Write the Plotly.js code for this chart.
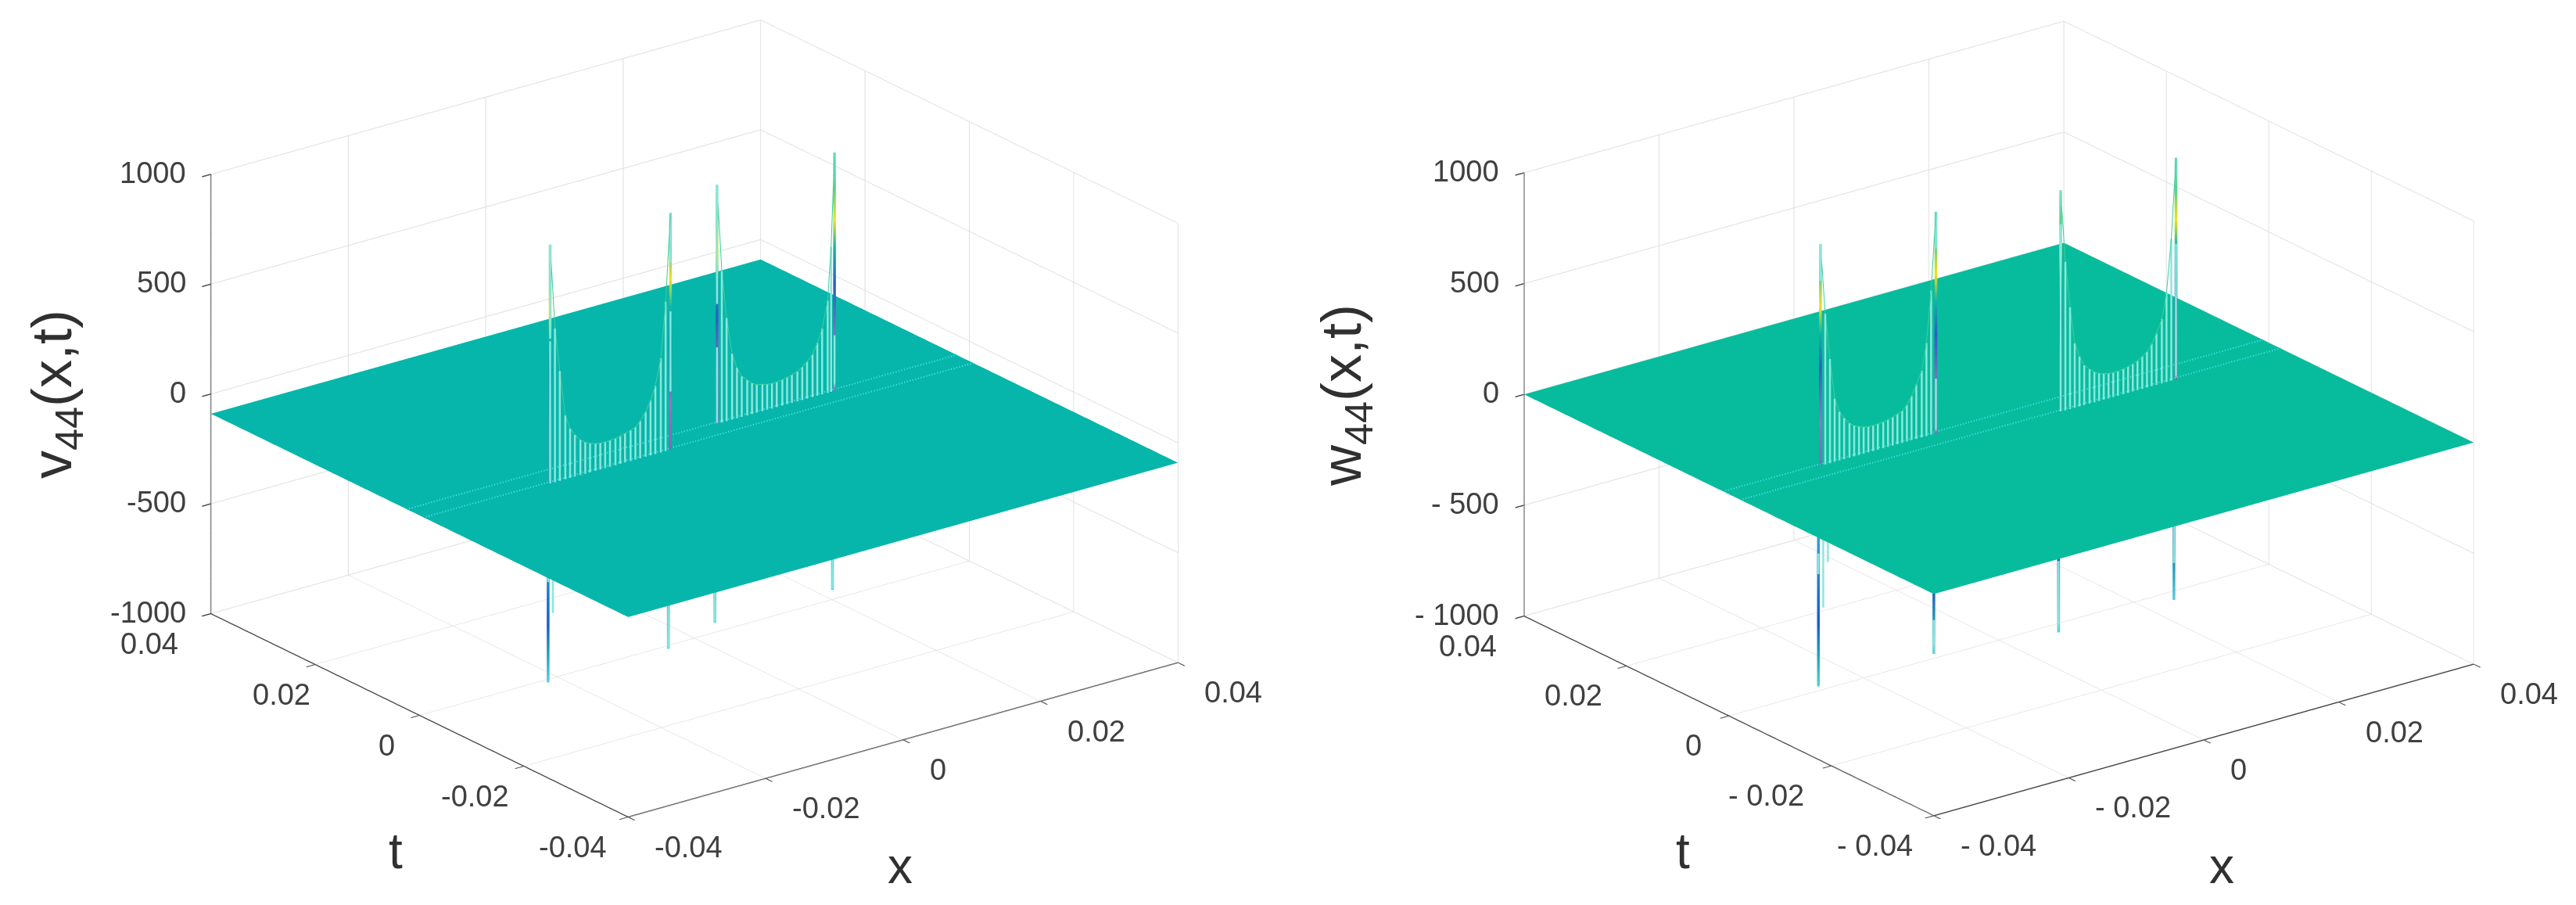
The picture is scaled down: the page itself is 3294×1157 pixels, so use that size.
<!DOCTYPE html>
<html><head><meta charset="utf-8">
<script src="https://cdn.plot.ly/plotly-3.0.1.min.js"></script>
<style>html,body{margin:0;padding:0;background:#fff}#c{width:3294px;height:1157px}</style>
</head><body><div id="c"></div>
<script>
const xTicks=[-0.04,-0.02,0,0.02,0.04];
const tTicks=[-0.04,-0.02,0,0.02,0.04];
const zTicks=[-1000,-500,0,500,1000];
const xLabelsV=['-0.04','-0.02','0','0.02','0.04'];
const zLabelsV=['-1000','-500','0','500','1000'];
const xLabelsW=['- 0.04','- 0.02','0','0.02','0.04'];
const zLabelsW=['- 1000','- 500','0','500','1000'];
const gridX=[-0.04,0.04];
const gridT=[-0.04,0.04];
const planeV=-90, planeW=0;
const tV=[-0.0012,0.002];
const tW=[0.0007,-0.0027];
const xV1=[-0.0219,-0.0212,-0.0205,-0.0197,-0.019,-0.0183,-0.0175,-0.0168,-0.0161,-0.0153,-0.0146,-0.0139,-0.0132,-0.0124,-0.0117,-0.011,-0.0102,-0.0095,-0.0088,-0.008,-0.0073,-0.0066,-0.0058,-0.0051,-0.0044];
const xV2=[0.0048,0.0055,0.0062,0.007,0.0077,0.0084,0.0092,0.0099,0.0106,0.0114,0.0121,0.0128,0.0135,0.0143,0.015,0.0157,0.0165,0.0172,0.0179,0.0187,0.0194,0.0201,0.0209,0.0214,0.0219];
const xW1=[-0.0259,-0.0252,-0.0245,-0.0238,-0.0231,-0.0224,-0.0216,-0.0209,-0.0202,-0.0195,-0.0188,-0.0181,-0.0174,-0.0166,-0.0159,-0.0152,-0.0145,-0.0138,-0.0131,-0.0124,-0.0117,-0.0109,-0.0102,-0.0095,-0.0088];
const xW2=[0.0071,0.0078,0.0085,0.0092,0.0099,0.0106,0.0114,0.0121,0.0128,0.0135,0.0142,0.0149,0.0156,0.0164,0.0171,0.0178,0.0185,0.0192,0.0199,0.0206,0.0213,0.0221,0.0228,0.0235,0.0242];
const combV1=[1088,700,500,290,225,190,160,143,132,124,120,119,120,122,126,133,140,148,170,205,250,310,430,680,1078];
const combV2=[1090,690,470,300,230,185,160,140,128,122,116,114,114,118,122,128,136,150,168,195,240,300,420,660,1085];
const negV1=[910,600,420,260,200,170,150,135,125,118,114,113,114,116,120,126,133,140,160,190,235,290,400,600,910];
const negV2=[910,590,410,265,205,170,150,132,122,116,110,108,108,112,116,122,130,142,158,185,225,280,390,590,910];
const combW1=[1000,680,470,285,220,185,155,138,128,120,116,115,116,118,122,128,136,144,165,200,245,300,420,650,1000];
const combW2=[1000,670,460,290,225,180,155,136,124,118,112,110,110,114,118,124,132,146,162,190,232,290,405,640,1000];
const negW1=[1000,650,450,280,215,180,150,135,125,118,114,113,114,116,120,126,133,140,160,190,235,290,400,620,1000];
const negW2=[1000,640,440,285,220,175,150,132,122,116,110,108,108,112,116,122,130,142,158,185,225,280,390,610,1000];
const upColors=['#7b68b8','#8a78c0','#2a5fc0','#12b5a8','#f5e020','#5ccf8f','#7fe0d0'];
const upStops=[0,0.2,0.45,0.6,0.72,0.85,1];
const downColors=['#12b5a8','#2fb8d0','#2a8fd0','#1a70c8','#1c60c0','#20a0c0','#58d0e0'];
const tStep=0.0004;

function teeth(xs,vals,t,base,sign){const X=[],Y=[],Z=[];xs.forEach((x,i)=>{X.push(x,x,null);Y.push(t,t,null);Z.push(base,Math.max(-1000,base+sign*vals[i]),null);});return {X,Y,Z};}
function curve(xs,vals,t,base,sc){return {type:'scatter3d',mode:'lines',scene:sc,x:xs,y:xs.map(()=>t),z:vals.map(v=>base+v),line:{color:'#3ccf9c',width:2},hoverinfo:'skip',showlegend:false};}
function endSpike(x,t,base,h,sc,colors){const Z=upStops.map(s=>Math.max(-1000,base+s*h));return {type:'scatter3d',mode:'lines',scene:sc,x:Z.map(()=>x),y:Z.map(()=>t),z:Z,line:{color:colors,width:7},hoverinfo:'skip',showlegend:false};}
function panel(sc,base,col,ts,x1,x2,c1,c2,n1,n2){
  const tr=[];
  const last=x1.length-1;
  tr.push({type:'surface',scene:sc,x:gridX,y:gridT,z:[[base,base],[base,base]],showscale:false,colorscale:[[0,col],[1,col]],lighting:{ambient:1,diffuse:0,specular:0,roughness:1,fresnel:0},hoverinfo:'skip'});
  ts.forEach(t=>tr.push({type:'scatter3d',mode:'lines',scene:sc,x:gridX,y:[t,t],z:[base+8,base+8],line:{color:'#45e0ea',width:4,dash:'dot'},hoverinfo:'skip',showlegend:false}));
  const parts=[teeth(x1,c1,ts[0],base,1),teeth(x2,c2,ts[1],base,1),teeth(x1,n1,ts[0]+tStep,base,-1),teeth(x2,n2,ts[1]+tStep,base,-1)];
  parts.forEach(p=>tr.push({type:'scatter3d',mode:'lines',scene:sc,x:p.X,y:p.Y,z:p.Z,line:{color:'#8ce6dc',width:5},hoverinfo:'skip',showlegend:false}));
  tr.push(curve(x1,c1,ts[0],base,sc),curve(x2,c2,ts[1],base,sc));
  tr.push(endSpike(x1[0],ts[0],base,c1[0],sc,upColors),endSpike(x1[last],ts[0],base,c1[last],sc,upColors),endSpike(x2[0],ts[1],base,c2[0],sc,upColors),endSpike(x2[last],ts[1],base,c2[last],sc,upColors));
  [[x1[0],ts[0],n1[0]],[x1[last],ts[0],n1[last]],[x2[0],ts[1],n2[0]],[x2[last],ts[1],n2[last]]].forEach(a=>tr.push(endSpike(a[0],a[1]+tStep,base,-a[2],sc,downColors)));
  return tr;
}
const F='"Liberation Sans",Arial,sans-serif', TC='#404040';
function axisCfg(vals,rng){return {range:rng,tickvals:vals,showticklabels:false,title:{text:''},showgrid:true,gridcolor:'#dedede',gridwidth:2,showbackground:false,showline:true,linecolor:'#484848',linewidth:3,ticks:'outside',ticklen:14,tickcolor:'#484848',tickwidth:3,zeroline:false,showspikes:false};}
function scene(dom,rxy,rz){return {domain:dom,aspectmode:'manual',aspectratio:{x:rxy,y:rxy,z:rz},camera:{projection:{type:'orthographic'},eye:{x:-0.6046*2.2,y:-0.7965*2.2,z:0.398*2.2},center:{x:0,y:0,z:0},up:{x:0,y:0,z:1}},xaxis:axisCfg(xTicks,[-0.04,0.04]),yaxis:axisCfg(tTicks,[-0.04,0.04]),zaxis:axisCfg(zTicks,[-1000,1000]),
  annotations:[]};}
function tickAnn(sc,xl,zl,tShift){
  const a=sc.annotations, font={family:F,size:38,color:TC};
  xTicks.forEach((v,i)=>a.push({x:v,y:-0.04,z:-1000,text:xl[i],showarrow:false,xanchor:'left',yanchor:'middle',xshift:32,yshift:-38,font}));
  tTicks.forEach((v,i)=>a.push({x:-0.04,y:v,z:-1000,text:xl[i],showarrow:false,xanchor:'right',yanchor:'middle',xshift:-25+tShift[i],yshift:-38,font}));
  zTicks.forEach((v,i)=>a.push({x:-0.04,y:0.04,z:v,text:zl[i],showarrow:false,xanchor:'right',yanchor:'middle',xshift:-30,yshift:2,font}));
}
const W=3294,H=1157;
const sA=scene({x:[88/W,1688/W],y:[87/H,1]},1.65,1.13);
const sB=scene({x:[1818/W,1],y:[87/H,1]},1.62,1.14);
tickAnn(sA,xLabelsV,zLabelsV,[0,8,-4,21,-15]);tickAnn(sB,xLabelsW,zLabelsW,[0,-8,-8,-4,-8]);
function ttl(px,py,text,size,angle){return {xref:'paper',yref:'paper',x:px/W,y:1-py/H,text,showarrow:false,xanchor:'center',yanchor:'middle',textangle:angle||0,font:{family:F,size,color:'#303030'}};}
const layout={width:W,height:H,margin:{l:0,r:0,t:0,b:0},paper_bgcolor:'#fff',showlegend:false,scene:sA,scene2:sB,
 annotations:[ttl(506,1088,'t',64),ttl(1151,1107,'x',64),ttl(71,504,'v<sub>44</sub>(x,t)',72,-90),ttl(2152,1088,'t',64),ttl(2841,1107,'x',64),ttl(1720,506,'w<sub>44</sub>(x,t)',72,-90)]};
Plotly.newPlot('c',[...panel('scene',planeV,'#07b6aa',tV,xV1,xV2,combV1,combV2,negV1,negV2),...panel('scene2',planeW,'#07bc9d',tW,xW1,xW2,combW1,combW2,negW1,negW2)],layout,{displayModeBar:false,responsive:false});
</script></body></html>
